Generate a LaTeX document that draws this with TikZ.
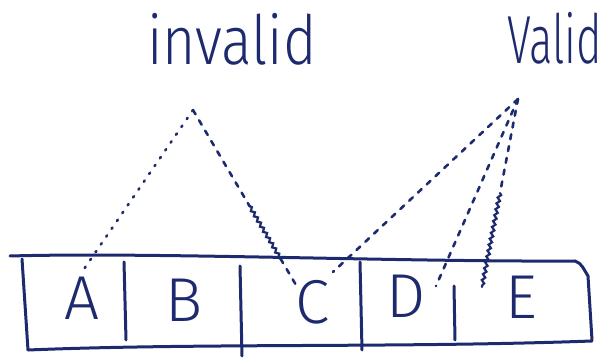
\documentclass[tikz,border=0pt]{standalone}
\usepackage{fontspec}
\setmainfont{Fira Sans Light}
\usetikzlibrary{decorations.pathmorphing,calc}
\definecolor{ink}{HTML}{1E2A6E}
\tikzset{
  pen/.style={draw=ink, line width=3pt, line cap=round, line join=round},
  letter/.style={text=ink, font=\fontsize{62}{62}\selectfont, inner sep=0pt},
  word/.style={text=ink, font=\fontsize{68}{68}\selectfont, inner sep=0pt},
  dash1/.style={draw=ink, line width=2.6pt, line cap=round, dash pattern=on 5pt off 7pt},
  dot1/.style={draw=ink, line width=2.6pt, line cap=round, dash pattern=on 1.5pt off 8pt},
  wavy/.style={draw=ink, line width=2.2pt, line cap=round, decorate,
    decoration={snake, amplitude=1.5pt, segment length=6pt}}
}
\begin{document}
\begin{tikzpicture}[x=1pt, y=-1pt]
\useasboundingbox (0,0) rectangle (606,358);
% labels
\node[word, anchor=base] (inv) at (232,65) {\scalebox{0.84}[1]{invalid}};
\node[word, anchor=base east] (val) at (602,64) {\scalebox{0.64}[1]{Valid}};
% box outline
\draw[pen] (10,256) .. controls (150,252) and (400,262) .. (575,261)
  .. controls (582,263) and (584,270) .. (588,276)
  -- (592,340);
\draw[pen] (22,259) -- (28,350);
\draw[pen] (28,350) .. controls (200,343) and (400,348) .. (592,341);
% dividers
\draw[pen] (124,262) -- (126,340);
\draw[pen] (240,266) -- (242,356);
\draw[pen] (360,262) -- (362,350);
\draw[pen] (454,286) -- (455,340);
% letters
\node[letter] (A) at (82,298) {A};
\node[letter] (B) at (184,300) {B};
\node[letter] (C) at (313,302) {C};
\node[letter] (D) at (406,296) {D};
\node[letter] (E) at (521,297) {E};
% apex points and ends
\coordinate (ip) at (193,110);
\coordinate (vp) at (518,99);
\coordinate (ea) at (82,272);
\coordinate (ec1) at (296,285);
\coordinate (ec2) at (333,272);
\coordinate (ed) at (436,286);
\coordinate (ee) at (482,287);
% invalid connectors
\draw[dot1] (ip) -- (ea);
\draw[dash1] (ip) -- ($(ip)!0.55!(ec1)$);
\draw[wavy] ($(ip)!0.55!(ec1)$) -- ($(ip)!0.85!(ec1)$);
\draw[dash1] ($(ip)!0.85!(ec1)$) -- (ec1);
% valid connectors
\draw[dash1] (vp) -- (ec2);
\draw[dash1] (vp) -- (ed);
\draw[dash1] (vp) -- ($(vp)!0.5!(ee)$);
\draw[wavy] ($(vp)!0.5!(ee)$) -- (ee);
\end{tikzpicture}
\end{document}
